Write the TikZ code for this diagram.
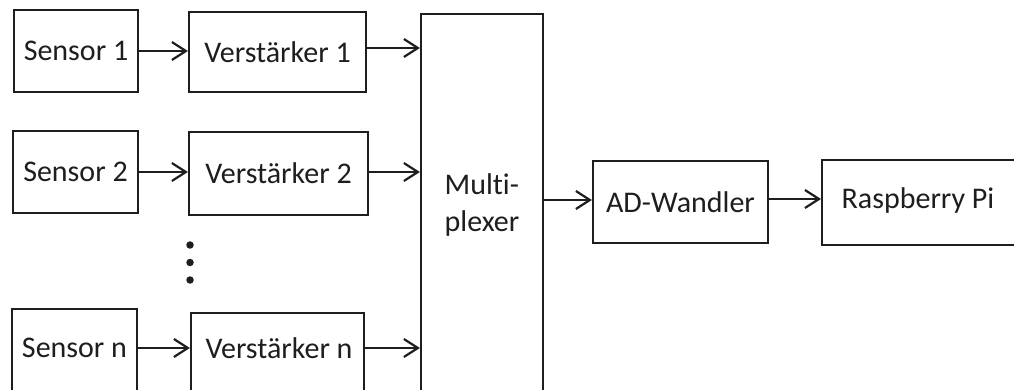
\documentclass[tikz,border=0pt]{standalone}
\usepackage{fontspec}
\setmainfont{Carlito}[Ligatures=NoCommon]
\usetikzlibrary{arrows.meta}
\definecolor{ink}{HTML}{1E1E1E}
\begin{document}
\begin{tikzpicture}[x=1pt,y=-1pt,
  box/.style={draw=ink,line width=2.2pt,inner sep=0pt,font=\fontsize{30}{35}\selectfont,text=ink},
  lbl/.style={inner sep=0pt,font=\fontsize{30}{37}\selectfont,text=ink},
  arr/.style={draw=ink,line width=2.2pt,-{Straight Barb[length=14pt,width=18pt,line width=2.2pt]}},
  dot/.style={circle,fill=ink,inner sep=0pt,minimum size=7.5pt}]
\useasboundingbox (0,0) rectangle (1014,390);
\clip (0,0) rectangle (1014,390);
\fill[white] (0,0) rectangle (1014,390);
% sensors and amplifiers
\node[box,minimum width=124pt,minimum height=82pt] (s1) at (76,51) {Sensor 1};
\node[box,minimum width=177pt,minimum height=80pt] (v1) at (277.5,52) {Verstärker 1};
\node[box,minimum width=125pt,minimum height=82pt] (s2) at (75.5,172) {Sensor 2};
\node[box,minimum width=179pt,minimum height=83pt] (v2) at (278.5,173.5) {Verstärker 2};
\node[box,minimum width=125pt,minimum height=100pt,anchor=north] (snbox) at (74.5,308) {};
\node[lbl] (sn) at (74.5,348) {Sensor n};
\node[box,minimum width=173pt,minimum height=100pt,anchor=north] (vnbox) at (277.5,312) {};
\node[lbl] (vn) at (279,348) {Verstärker n};
% dots
\node[dot] (d1) at (190,245) {};
\node[dot] (d2) at (190,262.5) {};
\node[dot] (d3) at (190,280) {};
% multiplexer
\node[box,minimum width=122pt,minimum height=400pt,anchor=north] (mux) at (482,13) {};
\node[lbl,align=left] (muxt) at (482,205) {Multi-\\plexer};
% AD and Raspberry
\node[box,minimum width=175pt,minimum height=82pt] (ad) at (680.5,202) {AD-Wandler};
\node[box,minimum width=300pt,minimum height=85pt,anchor=west] (rpibox) at (821,202.5) {};
\node[lbl] (rpi) at (918,201) {Raspberry Pi};
% connectors
\draw[arr] (s1.east) -- (s1.east -| v1.west);
\draw[arr] ([yshift=4pt]v1.east) -- ([yshift=4pt]v1.east -| mux.west);
\draw[arr] (s2.east) -- (s2.east -| v2.west);
\draw[arr] ([yshift=1.5pt]v2.east) -- ([yshift=1.5pt]v2.east -| mux.west);
\draw[arr] (snbox.east |- sn) -- (vnbox.west |- sn);
\draw[arr] (vnbox.east |- vn) -- (vnbox.east |- vn -| mux.west);
\draw[arr] ([yshift=2pt]ad.west -| mux.east) -- ([yshift=2pt]ad.west);
\draw[arr] ([yshift=3pt]ad.east) -- ([yshift=3pt]ad.east -| rpibox.west);
\end{tikzpicture}
\end{document}
